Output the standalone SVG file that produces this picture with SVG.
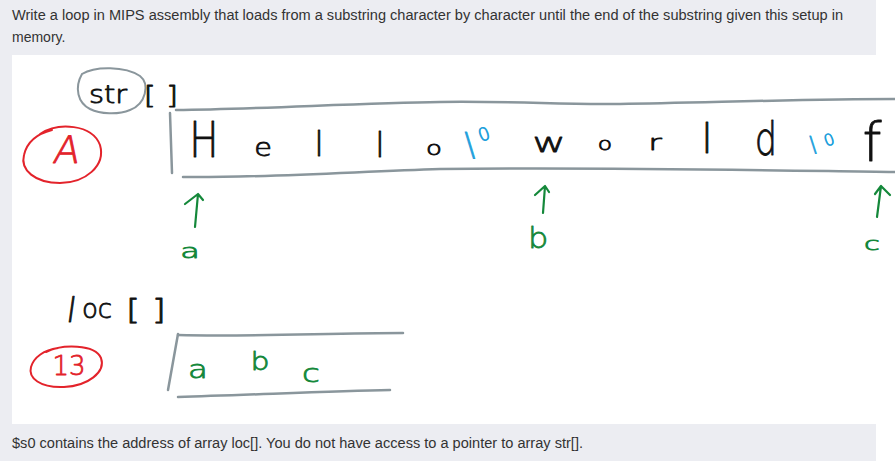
<svg xmlns="http://www.w3.org/2000/svg" width="895" height="461" viewBox="0 0 895 461">
<defs>
<style>
.ui{font-family:"Liberation Sans",Arial,sans-serif;font-size:14px;fill:#333}
.hw{font-family:"DejaVu Sans","Liberation Sans",sans-serif;font-weight:200;text-anchor:middle;stroke-width:0.8;stroke-linejoin:round}
.blk{fill:#111;stroke:#111}
.blu{fill:#1ea0dc;stroke:#1ea0dc}
.grn{fill:#14883a;stroke:#14883a}
.red{fill:#e3232b;stroke:#e3232b}
.box{fill:none;stroke:#8a969c;stroke-width:2.5;stroke-linecap:round}
.ring{fill:none;stroke-width:2;stroke-linecap:round}
.arr{fill:none;stroke:#14883a;stroke-width:2.2;stroke-linecap:round;stroke-linejoin:round}
</style>
</defs>
<rect x="0" y="0" width="895" height="461" fill="#ffffff"/>
<rect x="0" y="0" width="876" height="461" fill="#ecedf2"/>
<rect x="12" y="55" width="883" height="369" fill="#ffffff"/>
<g id="question">
<text class="ui" x="12" y="20" textLength="831" lengthAdjust="spacingAndGlyphs">Write a loop in MIPS assembly that loads from a substring character by character until the end of the substring given this setup in</text>
<text class="ui" x="12" y="42">memory.</text>
</g>
<g id="note">
<text class="ui" x="12" y="448" textLength="571" lengthAdjust="spacingAndGlyphs">$s0 contains the address of array loc[]. You do not have access to a pointer to array str[].</text>
</g>
<g id="str-label">
<path class="ring" stroke="#8a969c" stroke-width="1.5" d="M82,74 C95,66 125,66 140,76 C150,84 146,104 130,110 C118,115 100,114 90,109 C78,103 74,88 82,74"/>
<text class="hw blk" transform="translate(108,103) scale(1.2,1)" font-size="24">str</text>
<text class="hw blk" transform="translate(161,104) scale(1.3,1)" font-size="24">[ ]</text>
</g>
<g id="mark-A">
<path class="ring" stroke="#e3232b" d="M40,134 C58,122 92,124 100,145 C106,166 85,183 60,183 C35,183 20,170 24,155 C27,142 36,134 52,130"/>
<text class="hw red" transform="translate(65,163) skewX(-10)" font-size="38">A</text>
</g>
<g id="str-array">
<path class="box" d="M170,113 L172,173"/>
<path class="box" d="M176,110 C260,109 360,103 440,102 C520,101 560,105 620,104 C700,103 800,99 895,99"/>
<path class="box" d="M183,177 C260,178 350,172 440,169 C600,167 750,170 895,172"/>
<text class="hw blk" transform="translate(204,157) scale(0.78,1)" font-size="50">H</text>
<text class="hw blk" transform="translate(263,156) scale(1.2,1)" font-size="24">e</text>
<text class="hw blk" x="319" y="156" font-size="33">l</text>
<text class="hw blk" x="380" y="157" font-size="34">l</text>
<text class="hw blk" transform="translate(434,155) scale(1.3,1)" font-size="20">o</text>
<text class="hw blu" x="470" y="155" font-size="32">\</text>
<text class="hw blu" transform="translate(486,140) rotate(-20)" font-size="18">0</text>
<text class="hw blk" transform="translate(549,152) scale(1.5,1)" font-size="27">w</text>
<text class="hw blk" transform="translate(605,150) scale(1.3,1)" font-size="18">o</text>
<text class="hw blk" transform="translate(655,150) scale(1.5,1)" font-size="22">r</text>
<text class="hw blk" x="707" y="153" font-size="40">l</text>
<text class="hw blk" transform="translate(766,155) scale(0.75,1)" font-size="47">d</text>
<text class="hw blu" x="813" y="152" font-size="22">\</text>
<text class="hw blu" transform="translate(831,145) rotate(-20)" font-size="16">0</text>
<text class="hw blk" x="872" y="161" font-size="54">f</text>
</g>
<g id="pointer-labels">
<text class="hw grn" transform="translate(190,258) scale(1.6,1)" font-size="20">a</text>
<text class="hw grn" transform="translate(538,248) scale(1.1,1)" font-size="29">b</text>
<text class="hw grn" transform="translate(872,250) scale(1.6,1)" font-size="18">c</text>
</g>
<g id="connectors">
<path class="arr" d="M195,227 L198,194 M185,204 L198,194 L203,200"/>
<path class="arr" d="M543,213 L545,186 M535,195 L545,186 L549,192"/>
<path class="arr" d="M877,217 L881,186 M875,194 L881,186 L890,195"/>
</g>
<g id="loc-label">
<text class="hw blk" transform="translate(70,322) skewX(-8)" font-size="34">l</text>
<text class="hw blk" x="97" y="318" font-size="26">oc</text>
<text class="hw blk" transform="translate(146,320) scale(1.3,1)" font-size="28">[ ]</text>
</g>
<g id="mark-B">
<path class="ring" stroke="#e3232b" d="M46,352 C62,344 95,344 101,358 C106,372 88,386 64,387 C40,388 28,378 31,367 C34,357 44,350 58,348"/>
<text class="hw red" x="69" y="375" font-size="26">13</text>
</g>
<g id="loc-array">
<path class="box" d="M178,334 L168,390"/>
<path class="box" d="M178,335 C250,337 330,333 403,333"/>
<path class="box" d="M178,397 C250,395 330,391 390,390"/>
<text class="hw grn" transform="translate(198,378) scale(1.35,1)" font-size="24">a</text>
<text class="hw grn" transform="translate(260,370) scale(1.2,1)" font-size="25">b</text>
<text class="hw grn" transform="translate(311,382) scale(1.3,1)" font-size="25">c</text>
</g>
</svg>
